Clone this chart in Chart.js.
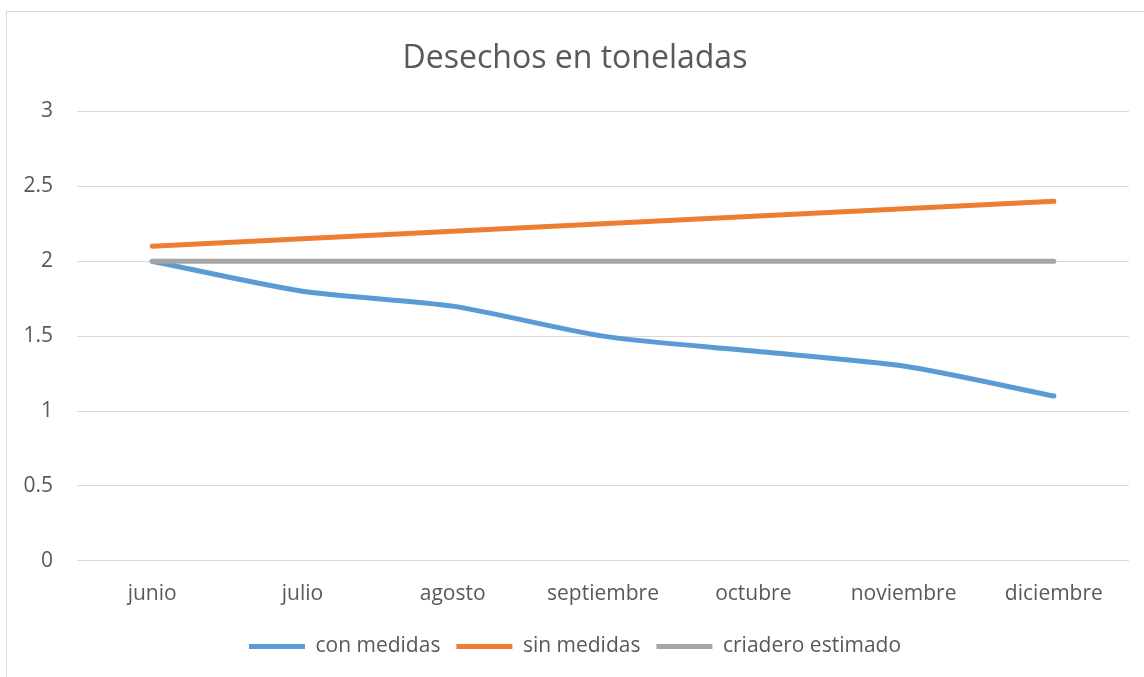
<!DOCTYPE html>
<html>
<head>
<meta charset="utf-8">
<script src="https://cdn.jsdelivr.net/npm/chart.js@4/dist/chart.umd.min.js"></script>
<style>
  html, body { margin: 0; padding: 0; background: #fff; }
  #wrap { width: 1144px; height: 677px; }
</style>
</head>
<body>
<div id="wrap"><canvas id="grafico"></canvas></div>
<script>
const meses = ["junio", "julio", "agosto", "septiembre", "octubre", "noviembre", "diciembre"];
const conMedidas = [2, 1.8, 1.7, 1.5, 1.4, 1.3, 1.1];
const sinMedidas = [2.1, 2.15, 2.2, 2.25, 2.3, 2.35, 2.4];
const criadero = [2, 2, 2, 2, 2, 2, 2];

const gris = "#595959";
const fuente = "'Open Sans', sans-serif";

// marco del grafico, como en Excel
const marco = {
  id: "marco",
  beforeDraw(chart) {
    const c = chart.ctx;
    c.save();
    c.strokeStyle = "#d9d9d9";
    c.lineWidth = 1;
    c.strokeRect(6.5, 11.5, 3000, 3000);
    c.restore();
  }
};

function serie(label, data, color, order) {
  return {
    label,
    data,
    borderColor: color,
    backgroundColor: color,
    borderWidth: 5,
    borderCapStyle: "round",
    pointRadius: 0,
    pointHoverRadius: 0,
    pointStyle: "line",
    tension: 0.25,
    order
  };
}

new Chart(document.getElementById("grafico"), {
  type: "line",
  data: {
    labels: meses,
    datasets: [
      serie("con medidas", conMedidas, "#5b9bd5", 3),
      serie("sin medidas", sinMedidas, "#ed7d31", 2),
      serie("criadero estimado", criadero, "#a5a5a5", 1)
    ]
  },
  options: {
    responsive: true,
    maintainAspectRatio: false,
    animation: false,
    layout: { padding: { left: 21, right: 15, top: 0, bottom: 10 } },
    plugins: {
      title: {
        display: true,
        text: "Desechos en toneladas",
        color: gris,
        font: { family: fuente, size: 32, weight: "normal" },
        padding: { top: 40, bottom: 33 }
      },
      legend: {
        position: "bottom",
        labels: {
          usePointStyle: true,
          pointStyleWidth: 56,
          color: gris,
          font: { family: fuente, size: 21 },
          padding: 16,
          sort: (a, b) => a.datasetIndex - b.datasetIndex
        }
      },
      tooltip: { enabled: false }
    },
    scales: {
      x: {
        offset: true,
        grid: { display: false },
        border: { display: false },
        ticks: { color: gris, font: { family: fuente, size: 21 }, padding: 13, maxRotation: 0 }
      },
      y: {
        min: 0,
        max: 3,
        grid: { color: "#d9d9d9", drawTicks: false },
        border: { display: false },
        afterFit: (s) => { s.width = 56; },
        ticks: {
          stepSize: 0.5,
          color: gris,
          font: { family: fuente, size: 21 },
          padding: 24,
          callback: (v) => String(Number(v))
        }
      }
    }
  },
  plugins: [marco]
});
</script>
</body>
</html>
